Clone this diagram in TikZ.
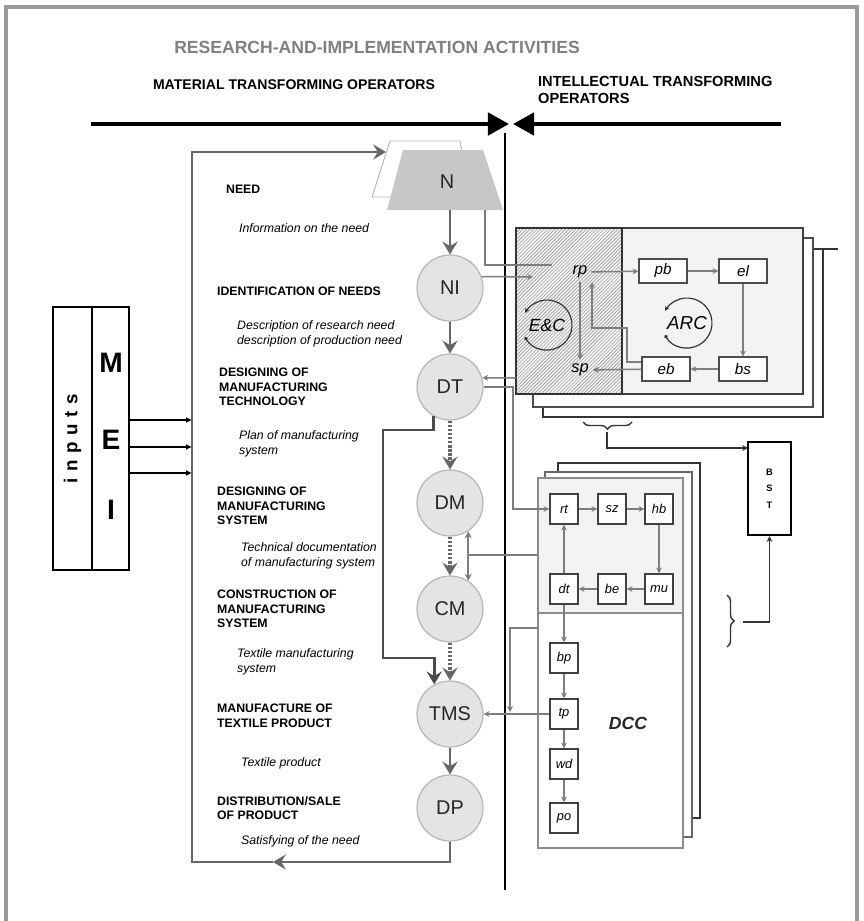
\documentclass[tikz,border=0pt]{standalone}
\usepackage{fontspec}
\setmainfont{Liberation Sans}
\usetikzlibrary{arrows.meta,patterns,decorations.pathreplacing}

\definecolor{framegray}{HTML}{9A9A9A}
\definecolor{flowgray}{HTML}{666666}
\definecolor{stagefill}{HTML}{E4E4E4}
\definecolor{stageline}{HTML}{B4B4B4}
\definecolor{panelfill}{HTML}{F3F3F3}

\tikzset{
  stagenode/.style={circle, draw=stageline, line width=1pt, fill=stagefill,
    minimum size=1.98cm, inner sep=0pt, text=black!85, font=\fontsize{17}{17}\selectfont},
  opbox/.style={draw=black!70, line width=1pt, fill=white, minimum width=1.44cm,
    minimum height=0.72cm, inner sep=0pt, font=\itshape\fontsize{13}{13}\selectfont},
  docbox/.style={draw=black!75, line width=1pt, fill=white, minimum width=0.84cm,
    minimum height=0.9cm, inner sep=0pt, font=\itshape\fontsize{11}{11}\selectfont},
  flow/.style={draw=flowgray, line width=2.4pt, -{Stealth[length=11pt,width=13pt,inset=4pt]}},
  dashflow/.style={flow, line width=3pt, dash pattern=on 2pt off 1.5pt},
  thinflow/.style={draw=flowgray!85, line width=1.3pt, -{Stealth[length=5pt,width=5pt]}},
  stagetitle/.style={anchor=west, align=left, font=\bfseries\fontsize{10.5}{12.5}\selectfont},
  stageout/.style={anchor=west, align=left, font=\itshape\fontsize{10.5}{12.5}\selectfont},
}

\begin{document}
\begin{tikzpicture}[x=0.03cm, y=-0.03cm]
\useasboundingbox (0,0) rectangle (863,921);

% frame
\draw[framegray, line width=3.5pt] (6,921) -- (6,7) -- (857,7) -- (857,921);

% headings
\node[text=black!50, font=\bfseries\fontsize{15}{15}\selectfont] (head) at (377,47) {RESEARCH-AND-IMPLEMENTATION ACTIVITIES};
\node[font=\bfseries\fontsize{12}{12}\selectfont] (mat) at (294,85) {MATERIAL TRANSFORMING OPERATORS};
\node[anchor=west, align=left, font=\bfseries\fontsize{12.5}{15}\selectfont] (intel) at (534,90) {INTELLECTUAL TRANSFORMING\\OPERATORS};

% operator arrows and divider
\coordinate (matL) at (91,124);
\coordinate (matR) at (509,124);
\coordinate (intR) at (781,124);
\coordinate (intL) at (513,124);
\draw[line width=3.5pt, -{Triangle[length=18pt,width=19pt]}] (matL) -- (matR);
\draw[line width=3.5pt, -{Triangle[length=18pt,width=19pt]}] (intR) -- (intL);
\coordinate (divT) at (505,133);
\coordinate (divB) at (505,890);
\draw[line width=1.6pt] (divT) -- (divB);

% need
\draw[stageline, fill=white, line width=0.8pt] (390,141) -- (460,141) -- (470,197) -- (372,197) -- cycle;
\fill[black!22] (403,150) -- (483,150) -- (503,210) -- (387,210) -- cycle;
\node[font=\fontsize{17}{17}\selectfont, text=black!85] (N) at (447,182) {N};

% stages
\node[stagenode] (NI) at (450,288) {NI};
\node[stagenode] (DT) at (450,387) {DT};
\node[stagenode] (DM) at (450,503) {DM};
\node[stagenode] (CM) at (450,609) {CM};
\node[stagenode] (TMS) at (450,714) {TMS};
\node[stagenode] (DP) at (450,808) {DP};

\coordinate (Nb) at (450,210);
\draw[flow] (Nb) -- (NI);
\draw[flow] (NI) -- (DT);
\draw[dashflow] (DT) -- (DM);
\draw[dashflow] (DM) -- (CM);
\draw[dashflow] (CM) -- (TMS);
\draw[flow] (TMS) -- (DP);

% feedback loop
\coordinate (loopA) at (273,862);
\coordinate (loopB) at (192,862);
\coordinate (loopC) at (192,152);
\coordinate (Nin) at (386,152);
\draw[flow] (DP.south) |- (loopA);
\draw[flow] (loopA) -- (loopB) -- (loopC) -- (Nin);

% technology straight to manufacture
\coordinate (dtA) at (383,430);
\coordinate (dtB) at (383,658);
\draw[flow, draw=black!70] (DT.240) |- (dtA) -- (dtB) -| (TMS.118);

% inputs
\node[draw, line width=1.2pt, rotate=90, minimum width=7.89cm, minimum height=1.17cm,
  inner sep=0pt, font=\bfseries\fontsize{16}{16}\selectfont\addfontfeature{LetterSpace=35}] (inl) at (72.5,438.5) {inputs};
\node[draw, line width=1.2pt, minimum width=1.11cm, minimum height=7.89cm, inner sep=0pt] (inr) at (110.5,438.5) {};
\node[font=\bfseries\fontsize{24}{24}\selectfont] (inM) at (111,363) {M};
\node[font=\bfseries\fontsize{24}{24}\selectfont] (inE) at (111,440) {E};
\node[font=\bfseries\fontsize{24}{24}\selectfont] (inI) at (111,510) {I};
\foreach \yy in {420,447,473} {
  \coordinate (in\yy) at (192,\yy);
  \draw[line width=1.6pt, -{Latex[length=5pt,width=5pt]}] (inr.east |- in\yy) -- (in\yy);
}

% stage labels
\node[stagetitle] (tNeed) at (222,189) {NEED};
\node[stageout] (oNeed) at (235,228) {Information on the need};
\node[stagetitle] (tNI) at (213,291) {IDENTIFICATION OF NEEDS};
\node[stageout] (oNI) at (233,334) {Description of research need\\description of production need};
\node[stagetitle] (tDT) at (215,387) {DESIGNING OF\\MANUFACTURING\\TECHNOLOGY};
\node[stageout] (oDT) at (235,444) {Plan of manufacturing\\system};
\node[stagetitle] (tDM) at (213,506) {DESIGNING OF\\MANUFACTURING\\SYSTEM};
\node[stageout] (oDM) at (237,556) {Technical documentation\\of manufacturing system};
\node[stagetitle] (tCM) at (213,609) {CONSTRUCTION OF\\MANUFACTURING\\SYSTEM};
\node[stageout] (oCM) at (233,662) {Textile manufacturing\\system};
\node[stagetitle] (tTMS) at (213,716) {MANUFACTURE OF\\TEXTILE PRODUCT};
\node[stageout] (oTMS) at (237,763) {Textile product};
\node[stagetitle] (tDP) at (213,808) {DISTRIBUTION/SALE\\OF PRODUCT};
\node[stageout] (oDP) at (237,841) {Satisfying of the need};

% ARC stack
\draw[line width=1.4pt, black!80, fill=white] (543,249) rectangle (823,417);
\draw[black!80, line width=1.2pt] (823,249) -- (838,249);
\draw[line width=1.2pt, black!70, fill=white] (533,238) rectangle (813,407);
\draw[line width=1.2pt, black!75, fill=panelfill] (516,228) rectangle (803,394);
\fill[pattern=north east lines, pattern color=black!45] (516,228) rectangle (622,394);
\draw[line width=1.4pt, black!80] (516,228) rectangle (622,394);

\node[font=\itshape\fontsize{14}{14}\selectfont] (rp) at (580,272) {rp};
\node[font=\itshape\fontsize{14}{14}\selectfont] (sp) at (580,370) {sp};
\node[opbox] (pb) at (663,271) {pb};
\node[opbox] (el) at (743,271) {el};
\node[opbox] (bs) at (743,369) {bs};
\node[opbox] (eb) at (666,369) {eb};
\node[font=\itshape\fontsize{15}{15}\selectfont] (ec) at (547,325) {E\&C};
\node[font=\itshape\fontsize{16}{16}\selectfont] (arc) at (687,323) {ARC};
\draw[line width=1pt, black!80, {Circle[length=3pt]}-{Stealth[length=4pt,width=4pt]}] (ec) ++(151:25) arc[start angle=151, end angle=-151, radius=25];
\draw[line width=1pt, black!80, {Circle[length=3pt]}-{Stealth[length=4pt,width=4pt]}] (arc) ++(151:25) arc[start angle=151, end angle=-151, radius=25];

\draw[thinflow] (rp) -- (pb);
\draw[thinflow] (pb) -- (el);
\draw[thinflow] (el) -- (bs);
\draw[thinflow] (bs) -- (eb);
\draw[thinflow] (eb) -- (sp);
\draw[thinflow] (rp) -- (sp);
\coordinate (fb1) at (627,362);
\coordinate (fb2) at (627,328);
\coordinate (fb3) at (592,328);
\draw[thinflow] (eb.west |- fb1) -- (fb1) -- (fb2) -- (fb3) -- (rp.south -| fb3);

% need and identification into the ARC stack
\coordinate (nR) at (485,210);
\coordinate (nRb) at (485,265);
\coordinate (nRc) at (552,265);
\draw[thinflow, -] (nR) -- (nRb) -- (nRc);
\coordinate (rpIn) at (533,277);
\draw[thinflow] (NI.20) -- (rpIn);
\coordinate (ecOut) at (516,378);
\draw[thinflow] (ecOut) -- (DT.16);
\coordinate (dtR) at (513,387);

% DCC stack
\draw[line width=1.6pt, black!80, fill=white] (558,463) rectangle (700,818);
\draw[line width=1.2pt, black!60, fill=white] (545,472) rectangle (692,837);
\draw[line width=1.2pt, black!45, fill=white] (538,478) rectangle (683,848);
\fill[panelfill] (539,479) rectangle (682,613);
\draw[line width=1pt, black!45] (538,613) -- (683,613);

\node[docbox] (rt) at (564,509) {rt};
\node[docbox] (sz) at (612,509) {sz};
\node[docbox] (hb) at (659,509) {hb};
\node[docbox] (dt) at (564,589) {dt};
\node[docbox] (be) at (612,589) {be};
\node[docbox] (mu) at (659,589) {mu};
\node[docbox] (bp) at (564,658) {bp};
\node[docbox] (tp) at (564,714) {tp};
\node[docbox] (wd) at (564,764) {wd};
\node[docbox] (po) at (564,818) {po};
\node[font=\bfseries\itshape\fontsize{15}{15}\selectfont, text=black!85] (dcc) at (628,723) {DCC};

\draw[thinflow] (rt) -- (sz);
\draw[thinflow] (sz) -- (hb);
\draw[thinflow] (hb) -- (mu);
\draw[thinflow] (mu) -- (be);
\draw[thinflow] (be) -- (dt);
\draw[thinflow] (dt) -- (rt);
\draw[thinflow] (dt) -- (bp);
\draw[thinflow] (bp) -- (tp);
\draw[thinflow] (tp) -- (wd);
\draw[thinflow] (wd) -- (po);

\draw[thinflow] (DT.east) -- (dtR) |- (rt.west);
\draw[thinflow] (tp.west) -- (TMS.east);
\coordinate (dccA) at (538,555);
\coordinate (dccB) at (468,555);
\draw[thinflow, -] (dccA) -- (dccB);
\draw[thinflow, line width=1.8pt, {Stealth[length=6pt,width=6pt]}-{Stealth[length=6pt,width=6pt]}] (DM.-57) -- (CM.57);
\coordinate (dccC) at (538,628);
\coordinate (dccD) at (510,628);
\coordinate (dccE) at (510,712);
\draw[thinflow] (dccC) -- (dccD) -- (dccE);

% BST
\node[draw, line width=1.8pt, minimum width=1.29cm, minimum height=2.79cm, inner sep=0pt,
  align=center, font=\bfseries\fontsize{8}{14}\selectfont] (bst) at (769.5,488.5) {B\\S\\T};
\draw[line width=1.2pt, black!80, decorate, decoration={brace, amplitude=6pt, mirror}] (583,422) -- (632,422);
\coordinate (br1) at (607,432);
\coordinate (bstIn) at (748,448);
\draw[thinflow, draw=black!80] (br1) |- (bstIn);
\draw[line width=1.2pt, black!80, decorate, decoration={brace, amplitude=6pt}] (727,595) -- (727,647);
\coordinate (br2) at (743,622);
\draw[thinflow, draw=black!80] (br2) -| (bst.south);

\end{tikzpicture}
\end{document}
